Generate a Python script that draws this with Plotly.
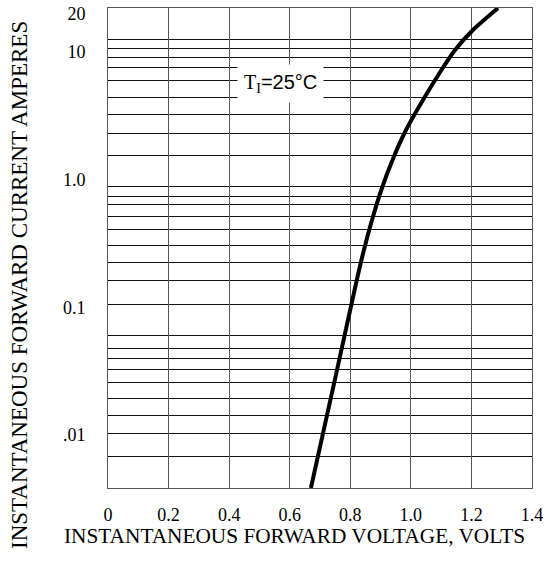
import math
import plotly.graph_objects as go

# Forward voltage (V) and forward current (A)
voltage = [0.670, 0.749, 0.8215, 0.845, 0.8717, 0.9024, 0.9394, 0.984, 1.040, 1.101, 1.146, 1.205, 1.288]
current = [0.00385, 0.02699, 0.1635, 0.2808, 0.4820, 0.8276, 1.421, 2.439, 4.190, 7.192, 10.31, 14.78, 21.98]

# Axis ticks
x_ticks = [0, 0.2, 0.4, 0.6, 0.8, 1.0, 1.2, 1.4]
x_ticktext = ["0", "0.2", "0.4", "0.6", "0.8", "1.0", "1.2", "1.4"]
y_ticks = [0.01, 0.1, 1.0, 10, 20]
y_ticktext = [".01", "0.1", "1.0", "10", "20"]

# Horizontal grid lines of the printed chart paper (current values)
y_grid = [12.57, 10.69, 9.09, 7.46, 5.90, 4.42, 3.25, 2.31, 1.53,
          0.874, 0.730, 0.632, 0.509, 0.4026, 0.3017, 0.2221, 0.1606, 0.1043,
          0.0596, 0.0472, 0.0394, 0.0323, 0.0260, 0.01917, 0.01411, 0.01020, 0.00674]

x_range = [0, 1.4]
y_range = [0.00385, 21.98]

# Label position (voltage, current)
label_v, label_i = 0.5685, 5.59

x_title = "INSTANTANEOUS FORWARD VOLTAGE, VOLTS"
y_title = "INSTANTANEOUS FORWARD CURRENT AMPERES"

serif = "Liberation Serif"
sans = "Liberation Sans"

fig = go.Figure()
fig.add_trace(go.Scatter(
    x=voltage, y=current, mode="lines",
    line=dict(color="black", width=4, shape="spline", smoothing=0.6),
    showlegend=False, hoverinfo="skip"))

fig.update_layout(
    width=559, height=576,
    margin=dict(l=108, r=27, t=8, b=88),
    paper_bgcolor="white", plot_bgcolor="white",
    font=dict(family=serif, color="black", size=18),
    xaxis=dict(
        range=x_range, tickmode="array", tickvals=x_ticks, ticktext=x_ticktext,
        showgrid=True, gridcolor="#555555", gridwidth=1,
        showline=True, linecolor="#555555", linewidth=1, mirror=True,
        ticks="", zeroline=False, ticklabelstandoff=10, automargin=False,
        tickfont=dict(family=serif, size=18),
    ),
    yaxis=dict(
        type="log", range=[math.log10(y_range[0]), math.log10(y_range[1])],
        tickmode="array", tickvals=y_ticks, ticktext=y_ticktext,
        showgrid=False, ticks="", zeroline=False, automargin=False,
        showline=True, linecolor="#555555", linewidth=1, mirror=True,
        ticklabelstandoff=18,
        tickfont=dict(family=serif, size=18),
        minor=dict(tickmode="array", tickvals=y_grid, showgrid=True,
                   gridcolor="#111111", gridwidth=1, ticks=""),
    ),
)

# Axis titles (placed off-centre, as in the original datasheet)
fig.add_annotation(
    x=0.440, y=-0.100, xref="paper", yref="paper",
    text=x_title, showarrow=False, xanchor="center", yanchor="middle",
    font=dict(family=serif, size=21.3, color="black"))
fig.add_annotation(
    x=-0.2075, y=0.423, xref="paper", yref="paper",
    text=y_title, showarrow=False, textangle=-90,
    xanchor="center", yanchor="middle",
    font=dict(family=serif, size=23, color="black"))

fig.add_annotation(
    x=label_v, y=math.log10(label_i), xref="x", yref="y",
    text="<span style='font-family:Liberation Serif'>T<sub>I</sub></span>=25°C",
    showarrow=False,
    font=dict(family=sans, size=20, color="black"),
    bgcolor="white", borderpad=6)

fig.write_html("out.html", config={"displayModeBar": False},
               post_script="document.body.style.margin='0px';")
